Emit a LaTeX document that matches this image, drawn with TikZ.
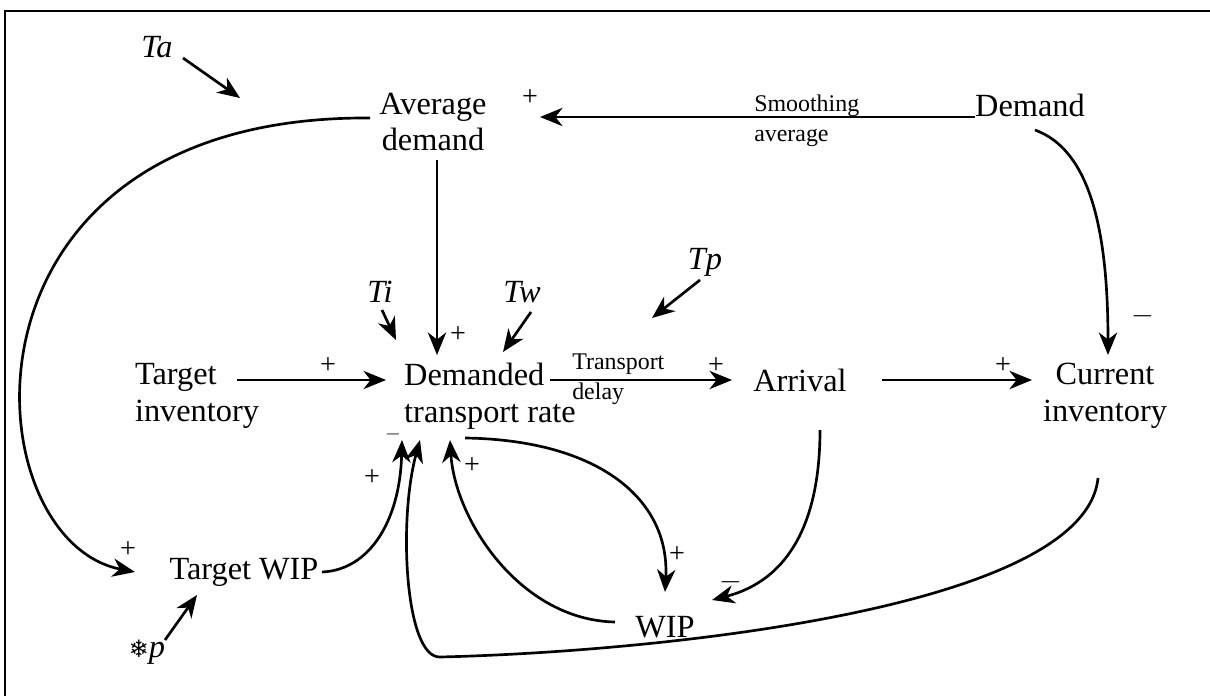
\documentclass[tikz,border=0pt]{standalone}
\usepackage{fontspec}
\setmainfont{Liberation Serif}
\newfontfamily\symfont{DejaVu Sans}
\usetikzlibrary{arrows.meta,calc}

\begin{document}
\begin{tikzpicture}[x=0.025cm, y=-0.025cm, >={Stealth[length=16pt,width=13pt,inset=5pt]},
  var/.style={font=\fontsize{23}{26}\selectfont, inner sep=0pt},
  const/.style={font=\fontsize{23}{26}\selectfont\itshape, inner sep=0pt},
  sign/.style={font=\fontsize{20}{20}\selectfont, inner sep=0pt},
  note/.style={font=\fontsize{17}{21}\selectfont, align=left, inner sep=0pt},
  link/.style={->, line width=1.9pt}]
\useasboundingbox (0,0) rectangle (1210,696);
\draw[line width=2pt] (5,720) -- (5,11) -- (1230,11);

\node[const] (ta) at (157,47) {Ta};
\node[var, align=center] (avg) at (433,122) {Average\\demand};
\node[var] (dem) at (1030,105) {Demand};
\node[note, anchor=west] (smooth) at (754,121) {Smoothing\\average};
\node[const] (ti) at (380,292) {Ti};
\node[const] (tw) at (522,292) {Tw};
\node[const] (tp) at (705,262) {Tp};
\node[var, align=left] (tinv) at (197,396) {Target\\inventory};
\node[var, align=left] (dtr) at (490,396) {Demanded\\transport rate};
\node[note, anchor=west] (delay) at (572,379) {Transport\\delay};
\node[var] (arr) at (800,380) {Arrival};
\node[var, align=center] (cinv) at (1105,396) {Current\\inventory};
\node[var] (twip) at (244,572) {Target WIP};
\node[var] (wip) at (665,627) {WIP};
\node[const] (tpp) at (147,652) {{\symfont\upshape\fontsize{17}{17}\selectfont ❄}p};

\draw[link] ($(ta)+(26,11)$) -- ($(avg)+(-193,-24)$);
\draw[link] ($(dem)+(-55,12)$) -- ($(avg)+(107,-5)$);
\draw[link] ($(avg)+(4,38)$) -- ($(dtr)+(-53,-41)$);
\draw[link] ($(ti)+(2,18)$) -- ($(dtr)+(-94,-56)$);
\draw[link] ($(tw)+(9,20)$) -- ($(dtr)+(13,-44)$);
\draw[link] ($(tp)+(-5,18)$) -- ($(delay.west)+(80,-61)$);
\draw[link] ($(tinv)+(40,-16)$) -- ($(dtr)+(-104,-16)$);
\draw[link] ($(dtr)+(60,-16)$) -- ($(arr)+(-68,0)$);
\draw[link] ($(arr)+(82,0)$) -- ($(cinv)+(-73,-16)$);
\draw[link] ($(dem)+(5,25)$) .. controls (1090,150) and (1108,230) .. ($(cinv)+(3,-41)$);
\draw[link] ($(avg)+(-63,-4)$) .. controls (-60,115) and (-30,540) .. ($(twip)+(-109,0)$);
\draw[link] ($(twip)+(78,0)$) .. controls (370,570) and (400,520) .. ($(dtr)+(-88,44)$);
\draw[link] ($(cinv)+(-7,82)$) .. controls (1085,610) and (650,652) .. (440,657)
  .. controls (405,658) and (398,520) .. ($(dtr)+(-70,44)$);
\draw[link] ($(wip)+(-50,-5)$) .. controls (520,620) and (455,520) .. ($(dtr)+(-40,44)$);
\draw[link] ($(dtr)+(-25,42)$) .. controls (600,440) and (670,500) .. ($(wip)+(0,-35)$);
\draw[link] ($(arr)+(20,50)$) .. controls (820,520) and (790,580) .. ($(wip)+(47,-27)$);
\draw[link] ($(tpp)+(18,-12)$) -- ($(twip)+(-47,23)$);

\node[sign] (s-avg) at (530,98) {+};
\node[sign] (s-down) at (458,335) {+};
\node[sign] (s-tinv) at (328,366) {+};
\node[sign] (s-arr) at (716,366) {+};
\node[sign] (s-cinv) at (1003,366) {+};
\node[sign] (s-dem) at (1143,316) {$-$};
\node[sign] (s-twip) at (128,550) {+};
\node[sign] (s-tw1) at (372,478) {+};
\node[sign, font=\fontsize{15}{15}\selectfont] (s-tw2) at (393,434) {$-$};
\node[sign] (s-wip1) at (472,466) {+};
\node[sign] (s-wip2) at (677,555) {+};
\node[sign] (s-wip3) at (731,582) {$-$};
\end{tikzpicture}
\end{document}
